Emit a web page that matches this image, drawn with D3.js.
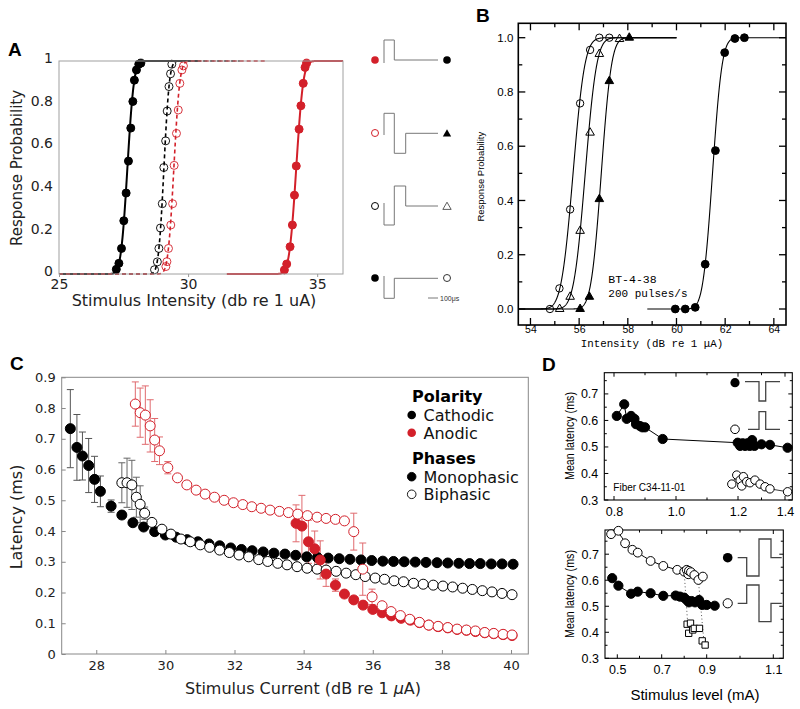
<!DOCTYPE html>
<html><head><meta charset="utf-8">
<script src="https://cdn.jsdelivr.net/npm/d3@7"></script>
<style>body{margin:0;background:#fff}</style>
</head><body><svg id="c" width="800" height="709" xmlns="http://www.w3.org/2000/svg"></svg>
<script>
// ---------------- DATA ----------------
// Panel A
const aTicksX = [25, 30, 35];
const aTicksY = [0, 0.2, 0.4, 0.6, 0.8, 1];
const aCathMonoX = [27.22,27.32,27.42,27.51,27.6,27.69,27.78,27.86,27.92,28.0,28.09,28.17];
const aCathMonoY = [0.022,0.05,0.12,0.25,0.38,0.53,0.685,0.81,0.91,0.958,0.985,0.99];
const aCathBiX = [28.7,28.81,28.87,28.93,29.0,29.06,29.13,29.19,29.26,29.32,29.37];
const aCathBiY = [0.02,0.057,0.12,0.216,0.33,0.5,0.625,0.765,0.88,0.94,0.985];
const aAnodBiX = [29.14,29.18,29.24,29.33,29.4,29.46,29.55,29.62,29.68,29.76,29.82];
const aAnodBiY = [0.035,0.058,0.12,0.23,0.33,0.51,0.66,0.77,0.895,0.958,0.977];
const aAnodMonoX = [33.73,33.82,33.95,34.04,34.12,34.19,34.3,34.37,34.46,34.53,34.59];
const aAnodMonoY = [0.019,0.047,0.128,0.23,0.37,0.507,0.68,0.79,0.895,0.97,0.99];
// fitted cumulative-normal curves: [mu, sigma, from, to]
const aFitCathMono = [27.65, 0.2, 25, 30.5];
const aFitCathBi   = [29.065, 0.166, 25, 32];
const aFitAnodBi   = [29.45, 0.18, 25, 33];
const aFitAnodMono = [34.19, 0.213, 31.5, 36];

// Panel B
const bTicksX = [54, 56, 58, 60, 62, 64];
const bTicksY = [0, 0.2, 0.4, 0.6, 0.8, 1.0];
const bOpenCircX = [54.8,55.19,55.63,56.04,56.45,56.83,57.24];
const bOpenCircY = [0,0.076,0.367,0.758,0.955,1.0,1.0];
const bOpenTriX = [55.2,55.63,56.04,56.45,56.83,57.66];
const bOpenTriY = [0,0.045,0.288,0.65,0.94,0.995];
const bFillTriX = [56.04,56.42,56.83,57.24,58.06];
const bFillTriY = [0,0.045,0.405,0.84,1.0];
const bFillCircX = [59.95,60.36,60.77,61.18,61.6,61.98,62.4,62.79];
const bFillCircY = [0,0,0.006,0.165,0.584,0.945,0.997,1.0];
const bFitOpenCirc = [55.75, 0.38, 53.5, 60];
const bFitOpenTri  = [56.25, 0.37, 53.5, 60];
const bFitFillTri  = [56.91, 0.33, 53.5, 60];
const bFitFillCirc = [61.48, 0.31, 58.8, 64.5];

// Panel C
const cTicksX = [28, 30, 32, 34, 36, 38, 40];
const cTicksY = [0, 0.1, 0.2, 0.3, 0.4, 0.5, 0.6, 0.7, 0.8, 0.9];
const cCathMonoX = [27.25,27.44,27.6,27.78,27.95,28.12,28.43,28.74,29.06,29.37,29.69,30.0,30.31,30.63,30.94,31.26,31.57,31.89,32.2,32.51,32.83,33.14,33.46,33.77,34.09,34.4,34.71,35.03,35.34,35.66,35.97,36.29,36.6,36.91,37.23,37.54,37.86,38.17,38.49,38.8,39.11,39.43,39.74,40.06];
const cCathMonoY = [0.733,0.672,0.644,0.613,0.568,0.529,0.481,0.452,0.427,0.413,0.398,0.387,0.38,0.372,0.365,0.358,0.352,0.345,0.34,0.336,0.332,0.328,0.325,0.321,0.316,0.314,0.312,0.31,0.308,0.306,0.304,0.302,0.301,0.3,0.299,0.298,0.297,0.296,0.295,0.294,0.294,0.293,0.293,0.292];
const cCathMonoErr = [0.127,0.107,0.078,0.088,0.075,0.05,0.02,0.012];
const cCathBiX = [28.74,28.89,29.03,29.16,29.27,29.4,29.61,29.9,30.16,30.45,30.72,31.01,31.28,31.57,31.85,32.13,32.41,32.7,32.96,33.25,33.52,33.81,34.1,34.39,34.65,34.94,35.23,35.51,35.78,36.07,36.34,36.62,36.89,37.18,37.46,37.75,38.03,38.31,38.6,38.88,39.17,39.45,39.74,40.03];
const cCathBiY = [0.557,0.557,0.55,0.51,0.487,0.458,0.428,0.406,0.39,0.374,0.365,0.355,0.347,0.338,0.33,0.322,0.316,0.307,0.301,0.295,0.29,0.284,0.279,0.276,0.273,0.269,0.263,0.258,0.252,0.247,0.243,0.238,0.235,0.23,0.227,0.224,0.221,0.218,0.214,0.21,0.206,0.202,0.197,0.193];
const cCathBiErr = [0.065,0.08,0.08,0.065,0.06,0.02,0.01];
const cAnodBiX = [29.13,29.27,29.42,29.56,29.69,29.83,30.07,30.35,30.62,30.89,31.15,31.42,31.7,31.97,32.24,32.5,32.77,33.03,33.3,33.56,33.83,34.11,34.39,34.65,34.92,35.18,35.45,35.71,35.98,36.27,36.53,36.8,37.07,37.35,37.62,37.89,38.17,38.44,38.71,38.97,39.24,39.5,39.77,40.03];
const cAnodBiY = [0.813,0.785,0.777,0.742,0.696,0.661,0.606,0.573,0.55,0.533,0.52,0.51,0.5,0.492,0.486,0.479,0.474,0.468,0.464,0.46,0.455,0.45,0.445,0.441,0.438,0.433,0.398,0.276,0.186,0.157,0.138,0.125,0.113,0.103,0.094,0.09,0.086,0.081,0.078,0.075,0.07,0.067,0.064,0.062];
const cAnodBiErr = [0.072,0.08,0.095,0.085,0.07,0.045,0.02,0,0,0,0,0,0,0,0,0,0,0,0,0,0,0,0,0,0,0,0.06,0.085,0.025];
const cAnodMonoX = [33.78,33.95,34.14,34.32,34.48,34.65,34.92,35.18,35.45,35.72,36.0,36.27,36.54,36.82,37.09,37.35,37.62,37.89,38.17,38.44,38.71,38.97,39.24,39.5,39.77,40.03];
const cAnodMonoY = [0.425,0.416,0.365,0.342,0.306,0.26,0.224,0.195,0.176,0.159,0.145,0.134,0.124,0.116,0.11,0.102,0.094,0.089,0.085,0.08,0.077,0.073,0.069,0.066,0.063,0.06];
const cAnodMonoErr = [0.06,0.1,0.07,0.058,0.062,0.04,0.02];
const cLegendPolarity = ["Cathodic", "Anodic"];
const cLegendPhases = ["Monophasic", "Biphasic"];

// Panel D
const dTopTicksX = [0.8, 1.0, 1.2, 1.4];
const dTopTicksY = [0.3, 0.4, 0.5, 0.6, 0.7];
const dTopFillX = [0.809,0.833,0.841,0.855,0.866,0.871,0.884,0.891,0.9,0.957,1.199,1.209,1.22,1.23,1.24,1.25,1.26,1.27,1.3,1.336,1.411];
const dTopFillY = [0.617,0.661,0.606,0.617,0.606,0.586,0.579,0.574,0.574,0.53,0.516,0.504,0.514,0.504,0.514,0.504,0.526,0.504,0.51,0.508,0.497];
const dTopOpenX = [1.18,1.196,1.209,1.216,1.223,1.237,1.251,1.272,1.294,1.315,1.336,1.411];
const dTopOpenY = [0.36,0.394,0.375,0.353,0.388,0.369,0.365,0.375,0.36,0.35,0.342,0.331];
const dBotTicksX = [0.5, 0.7, 0.9, 1.1];
const dBotTicksY = [0.3, 0.4, 0.5, 0.6, 0.7];
const dBotOpenX = [0.472,0.505,0.535,0.568,0.592,0.65,0.707,0.769,0.8,0.811,0.818,0.821,0.83,0.845,0.863,0.883];
const dBotOpenY = [0.777,0.79,0.742,0.717,0.706,0.674,0.655,0.64,0.633,0.64,0.623,0.636,0.631,0.62,0.601,0.614];
const dBotFillX = [0.477,0.505,0.562,0.592,0.65,0.707,0.762,0.781,0.8,0.811,0.821,0.833,0.848,0.866,0.88,0.9,0.924];
const dBotFillY = [0.608,0.579,0.548,0.556,0.55,0.54,0.541,0.537,0.533,0.524,0.515,0.52,0.515,0.524,0.505,0.505,0.502];
const dBotSqX = [0.813,0.82,0.828,0.838,0.845,0.868,0.88,0.893];
const dBotSqY = [0.431,0.396,0.435,0.409,0.415,0.415,0.367,0.351];
const dBotDotX1 = [0.8, 0.863], dBotDotY1 = [0.63, 0.6];
const dBotDotX2 = [0.815, 0.887], dBotDotY2 = [0.44, 0.37];

// ---------------- HELPERS ----------------
const svg = d3.select('#c');
const RED = '#d3202a';
const DJ = 'DejaVu Sans, Verdana, sans-serif';
const LS = 'Liberation Sans, Arial, Helvetica, sans-serif';
const MONO = 'Liberation Mono, DejaVu Sans Mono, monospace';

function ncdf(z){
  const t = 1/(1+0.2316419*Math.abs(z));
  const d = 0.3989423*Math.exp(-z*z/2);
  const p = d*t*(0.3193815+t*(-0.3565638+t*(1.781478+t*(-1.821256+t*1.330274))));
  return z > 0 ? 1-p : p;
}
function fitPts(f){ return d3.range(f[2], f[3]+1e-9, 0.01).map(x=>[x, ncdf((x-f[0])/f[1])]); }
function zip(xs, ys){ return xs.map((x,i)=>[x, ys[i]]); }
function circles(g, xs, ys, sx, sy, r, fill, stroke, sw){
  g.selectAll(null).data(zip(xs,ys)).join('circle')
    .attr('cx', d=>sx(d[0])).attr('cy', d=>sy(d[1])).attr('r', r)
    .attr('fill', fill).attr('stroke', stroke).attr('stroke-width', sw||1);
}
function syms(g, xs, ys, sx, sy, type, size, fill, stroke, sw){
  const sym = d3.symbol().type(type).size(size);
  g.selectAll(null).data(zip(xs,ys)).join('path')
    .attr('d', sym).attr('transform', d=>`translate(${sx(d[0])},${sy(d[1])})`)
    .attr('fill', fill).attr('stroke', stroke).attr('stroke-width', sw||1);
}
function errbars(g, xs, ys, es, sx, sy, color, cap){
  es.forEach((e,i)=>{
    if(!e) return;
    const X = sx(xs[i]), y1 = sy(ys[i]+e), y2 = sy(ys[i]-e);
    g.append('line').attr('x1',X).attr('x2',X).attr('y1',y1).attr('y2',y2).attr('stroke',color).attr('stroke-width',1);
    [y1,y2].forEach(y=>g.append('line').attr('x1',X-cap).attr('x2',X+cap).attr('y1',y).attr('y2',y).attr('stroke',color).attr('stroke-width',1));
  });
}
function rect(x0,y0,x1,y1,stroke,sw){
  svg.append('rect').attr('x',x0).attr('y',y0).attr('width',x1-x0).attr('height',y1-y0)
    .attr('fill','none').attr('stroke',stroke).attr('stroke-width',sw);
}
function styleAxis(g, font, size, color, tickColor){
  g.select('.domain').remove();
  g.selectAll('text').attr('font-family', font).attr('font-size', size).attr('fill', color);
  g.selectAll('line').attr('stroke', tickColor || color);
}
function label(x, y, txt, font, size, opts={}){
  const t = svg.append('text').attr('x',x).attr('y',y).text(txt)
    .attr('font-family',font).attr('font-size',size).attr('fill',opts.fill||'#000')
    .attr('text-anchor',opts.anchor||'start').attr('font-weight',opts.weight||'normal');
  if(opts.rotate) t.attr('transform',`rotate(-90,${x},${y})`);
  return t;
}
function path(d, stroke, sw){
  return svg.append('path').attr('d',d).attr('fill','none').attr('stroke',stroke).attr('stroke-width',sw);
}

// ---------------- PANEL A ----------------
{
  const sx = d3.scaleLinear().domain([25,36]).range([59,343]);
  const sy = d3.scaleLinear().domain([0,1]).range([274,61]);
  const g = svg.append('g');
  rect(59,61,343,274,'#a0a0a0',1);
  const line = d3.line().x(d=>sx(d[0])).y(d=>sy(d[1]));
  g.append('path').attr('d', line(fitPts(aFitCathMono))).attr('fill','none').attr('stroke','#000').attr('stroke-width',2);
  g.append('path').attr('d', line(fitPts(aFitAnodMono))).attr('fill','none').attr('stroke',RED).attr('stroke-width',2);
  g.append('path').attr('d', line(fitPts(aFitCathBi))).attr('fill','none').attr('stroke','#000').attr('stroke-width',1.6).attr('stroke-dasharray','4,3');
  g.append('path').attr('d', line(fitPts(aFitAnodBi))).attr('fill','none').attr('stroke',RED).attr('stroke-width',1.6).attr('stroke-dasharray','4,3');
  circles(g, aCathMonoX, aCathMonoY, sx, sy, 4, '#000', '#000');
  circles(g, aAnodMonoX, aAnodMonoY, sx, sy, 4, RED, RED);
  circles(g, aCathBiX, aCathBiY, sx, sy, 4, 'none', '#000', 0.9);
  circles(g, aAnodBiX, aAnodBiY, sx, sy, 4, 'none', RED, 0.9);
  const xa = svg.append('g').attr('transform','translate(0,274)')
    .call(d3.axisBottom(sx).tickValues(aTicksX).tickSize(3).tickPadding(2).tickFormat(d3.format('d')));
  styleAxis(xa, DJ, 14, '#222', '#999');
  const ya = svg.append('g').attr('transform','translate(59,0)')
    .call(d3.axisLeft(sy).tickValues(aTicksY).tickSize(0).tickPadding(6).tickFormat(d=> (d===0||d===1)? String(d) : d3.format('.1f')(d)));
  styleAxis(ya, DJ, 14, '#222');
  ya.selectAll('text').attr('dy', '0.12em');
  label(194, 306, 'Stimulus Intensity (db re 1 uA)', DJ, 16, {anchor:'middle', fill:'#222'});
  label(22, 168, 'Response Probability', DJ, 15, {anchor:'middle', fill:'#222', rotate:true});
  label(8, 56, 'A', LS, 19, {weight:'bold'});

  // stimulus waveform icons
  const wc = '#777';
  path('M384,63 V40 H394.3 V60 H438', wc, 1);
  path('M384,135 V113.3 H394.3 V153.3 H405.7 V133.3 H438', wc, 1);
  path('M384,203 V225 H394.3 V186 H405.7 V206 H438', wc, 1);
  path('M384,276 V298.3 H394.3 V278.3 H438', wc, 1);
  path('M428,298 H438', '#555', 0.8);
  label(440, 300.5, '100μs', LS, 7, {fill:'#333'});
  svg.append('circle').attr('cx',375).attr('cy',60).attr('r',3.8).attr('fill',RED);
  svg.append('circle').attr('cx',447).attr('cy',60).attr('r',3.8).attr('fill','#000');
  svg.append('circle').attr('cx',375).attr('cy',133).attr('r',3.5).attr('fill','none').attr('stroke',RED);
  svg.append('path').attr('d',d3.symbol(d3.symbolTriangle,30)()).attr('transform','translate(447,134)').attr('fill','#000');
  svg.append('circle').attr('cx',375).attr('cy',206).attr('r',3.5).attr('fill','none').attr('stroke','#000');
  svg.append('path').attr('d',d3.symbol(d3.symbolTriangle,30)()).attr('transform','translate(447,207)').attr('fill','none').attr('stroke','#333').attr('stroke-width',0.8);
  svg.append('circle').attr('cx',375).attr('cy',278).attr('r',3.8).attr('fill','#000');
  svg.append('circle').attr('cx',447).attr('cy',278).attr('r',3.5).attr('fill','none').attr('stroke','#333');
}

// ---------------- PANEL B ----------------
{
  const sx = d3.scaleLinear().domain([53.5,64.5]).range([518.3,786]);
  const sy = d3.scaleLinear().domain([0,1]).range([309,37.7]);
  const g = svg.append('g');
  const line = d3.line().x(d=>sx(d[0])).y(d=>sy(d[1]));
  [bFitOpenCirc,bFitOpenTri,bFitFillTri,bFitFillCirc].forEach(f=>{
    g.append('path').attr('d', line(fitPts(f))).attr('fill','none').attr('stroke','#000').attr('stroke-width',1.1);
  });
  circles(g, bOpenCircX, bOpenCircY, sx, sy, 3.7, 'none', '#000', 1);
  syms(g, bOpenTriX, bOpenTriY, sx, sy, d3.symbolTriangle, 32, 'none', '#000', 1);
  syms(g, bFillTriX, bFillTriY, sx, sy, d3.symbolTriangle, 32, '#000', '#000', 1);
  circles(g, bFillCircX, bFillCircY, sx, sy, 3.9, '#000', '#000', 1);
  rect(518.3,23.3,786,325,'#000',1.6);
  // ticks (inward, all sides)
  const tg = svg.append('g').attr('stroke','#000').attr('stroke-width',1.3);
  d3.range(54, 64.5, 1).forEach(v=>{
    const L = (v%2===0) ? 7 : 4, X = sx(v);
    tg.append('line').attr('x1',X).attr('x2',X).attr('y1',325).attr('y2',325-L);
    tg.append('line').attr('x1',X).attr('x2',X).attr('y1',23.3).attr('y2',23.3+L);
  });
  d3.range(0, 10.5, 1).forEach(k=>{
    const v = k/10, L = (k%2===0) ? 7 : 4, Y = sy(v);
    tg.append('line').attr('x1',518.3).attr('x2',518.3+L).attr('y1',Y).attr('y2',Y);
    tg.append('line').attr('x1',786).attr('x2',786-L).attr('y1',Y).attr('y2',Y);
  });
  const xa = svg.append('g').attr('transform','translate(0,325)')
    .call(d3.axisBottom(sx).tickValues(bTicksX).tickSize(0).tickPadding(1).tickFormat(d3.format('d')));
  styleAxis(xa, LS, 10.5, '#000');
  const ya = svg.append('g').attr('transform','translate(518.3,0)')
    .call(d3.axisLeft(sy).tickValues(bTicksY).tickSize(0).tickPadding(5).tickFormat(d3.format('.1f')));
  styleAxis(ya, LS, 11.5, '#000');
  label(652, 346.5, 'Intensity (dB re 1 μA)', MONO, 10.8, {anchor:'middle'});
  label(484, 176.7, 'Response Probability', LS, 9.5, {anchor:'middle', rotate:true});
  label(608.3, 283, 'BT-4-38', MONO, 11.5);
  label(608.3, 296.5, '200  pulses/s', MONO, 11);
  label(476, 22, 'B', LS, 19, {weight:'bold'});
}

// ---------------- PANEL C ----------------
{
  const sx = d3.scaleLinear().domain([27,40.5]).range([61.7,528.3]);
  const sy = d3.scaleLinear().domain([0,0.9]).range([654,377.3]);
  rect(61.7,377.3,528.3,654,'#888',1);
  const g = svg.append('g');
  errbars(g, cCathMonoX, cCathMonoY, cCathMonoErr, sx, sy, '#555', 3.5);
  errbars(g, cCathBiX, cCathBiY, cCathBiErr, sx, sy, '#666', 3.5);
  errbars(g, cAnodBiX, cAnodBiY, cAnodBiErr, sx, sy, '#e06a6e', 3.5);
  errbars(g, cAnodMonoX, cAnodMonoY, cAnodMonoErr, sx, sy, '#e06a6e', 3.5);
  circles(g, cCathMonoX, cCathMonoY, sx, sy, 5, '#000', '#000', 1);
  circles(g, cCathBiX, cCathBiY, sx, sy, 5, '#fff', '#000', 1);
  circles(g, cAnodMonoX, cAnodMonoY, sx, sy, 5, RED, RED, 1);
  circles(g, cAnodBiX, cAnodBiY, sx, sy, 5, '#fff', RED, 1);
  const xa = svg.append('g').attr('transform','translate(0,654)')
    .call(d3.axisBottom(sx).tickValues(cTicksX).tickSize(-4).tickPadding(7).tickFormat(d3.format('d')));
  styleAxis(xa, DJ, 13, '#222', '#888');
  const ya = svg.append('g').attr('transform','translate(61.7,0)')
    .call(d3.axisLeft(sy).tickValues(cTicksY).tickSize(-4).tickPadding(6).tickFormat(d=> d===0 ? '0' : d3.format('.1f')(d)));
  styleAxis(ya, DJ, 13, '#222', '#888');
  const xl = label(303, 694, 'Stimulus Current (dB re 1 ', DJ, 16, {anchor:'middle', fill:'#222'});
  xl.append('tspan').attr('font-style','italic').text('μ');
  xl.append('tspan').text('A)');
  label(22, 517, 'Latency (ms)', DJ, 16, {anchor:'middle', fill:'#222', rotate:true});
  label(10, 370, 'C', LS, 19, {weight:'bold'});
  // legend
  label(412, 401.5, 'Polarity', DJ, 16, {weight:'bold'});
  label(412, 463.5, 'Phases', DJ, 16, {weight:'bold'});
  const legY1 = [415, 432.7], legY2 = [476.7, 494.3];
  const legC1 = ['#000', RED];
  cLegendPolarity.forEach((t,i)=>{
    svg.append('circle').attr('cx',411.7).attr('cy',legY1[i]).attr('r',4.3).attr('fill',legC1[i]);
    label(423.5, legY1[i]+5.8, t, DJ, 16, {fill:'#111'});
  });
  cLegendPhases.forEach((t,i)=>{
    svg.append('circle').attr('cx',411.7).attr('cy',legY2[i]).attr('r',4.3)
      .attr('fill', i===0 ? '#000' : '#fff').attr('stroke','#000').attr('stroke-width',0.9);
    label(423.5, legY2[i]+5.8, t, DJ, 16, {fill:'#111'});
  });
}

// ---------------- PANEL D ----------------
function dAxes(sx, sy, x0, x1, y0, y1, ticksX, ticksY, minorX, minorY){
  rect(x0, y0, x1, y1, '#000', 1.1);
  const tg = svg.append('g').attr('stroke','#000').attr('stroke-width',1);
  ticksX.forEach(v=>{ const X=sx(v);
    tg.append('line').attr('x1',X).attr('x2',X).attr('y1',y1).attr('y2',y1-4);
    tg.append('line').attr('x1',X).attr('x2',X).attr('y1',y0).attr('y2',y0+4); });
  minorX.forEach(v=>{ const X=sx(v);
    tg.append('line').attr('x1',X).attr('x2',X).attr('y1',y1).attr('y2',y1-2.5);
    tg.append('line').attr('x1',X).attr('x2',X).attr('y1',y0).attr('y2',y0+2.5); });
  ticksY.forEach(v=>{ const Y=sy(v);
    tg.append('line').attr('x1',x0).attr('x2',x0+4).attr('y1',Y).attr('y2',Y);
    tg.append('line').attr('x1',x1).attr('x2',x1-4).attr('y1',Y).attr('y2',Y); });
  minorY.forEach(v=>{ const Y=sy(v);
    tg.append('line').attr('x1',x0).attr('x2',x0+2.5).attr('y1',Y).attr('y2',Y);
    tg.append('line').attr('x1',x1).attr('x2',x1-2.5).attr('y1',Y).attr('y2',Y); });
  const xa = svg.append('g').attr('transform',`translate(0,${y1})`)
    .call(d3.axisBottom(sx).tickValues(ticksX).tickSize(0).tickPadding(7).tickFormat(d3.format('.1f')));
  styleAxis(xa, LS, 12.5, '#000');
  const ya = svg.append('g').attr('transform',`translate(${x0},0)`)
    .call(d3.axisLeft(sy).tickValues(ticksY).tickSize(0).tickPadding(6).tickFormat(d3.format('.1f')));
  styleAxis(ya, LS, 12.5, '#000');
}
{
  // top plot
  const sx = d3.scaleLinear().domain([0.8,1.0,1.2,1.4]).range([614,676,738,785]);
  const sy = d3.scaleLinear().domain([0.3,0.78]).range([500,372.7]);
  dAxes(sx, sy, 604.3, 792.3, 372.7, 500, dTopTicksX, dTopTicksY, [0.9,1.1,1.3], [0.35,0.45,0.55,0.65,0.75]);
  const g = svg.append('g');
  const line = d3.line().x(d=>sx(d[0])).y(d=>sy(d[1]));
  g.append('path').attr('d', line(zip(dTopFillX,dTopFillY))).attr('fill','none').attr('stroke','#000').attr('stroke-width',1);
  g.append('path').attr('d', line(zip(dTopOpenX,dTopOpenY))).attr('fill','none').attr('stroke','#000').attr('stroke-width',0.8);
  circles(g, dTopFillX, dTopFillY, sx, sy, 4.6, '#000', '#000', 1);
  circles(g, dTopOpenX, dTopOpenY, sx, sy, 4.2, '#fff', '#000', 1);
  label(613.3, 491, 'Fiber C34-11-01', LS, 10);
  const yl = label(574, 436, 'Mean latency (ms)', LS, 13.5, {anchor:'middle', rotate:true});
  yl.attr('textLength', 88).attr('lengthAdjust','spacingAndGlyphs');
  // icons
  svg.append('circle').attr('cx',735).attr('cy',382.7).attr('r',4.6).attr('fill','#000');
  path('M745,381.7 H759 V401 H765.7 V381.7 H780', '#444', 1.3);
  svg.append('circle').attr('cx',735).attr('cy',429.3).attr('r',4.3).attr('fill','#fff').attr('stroke','#000');
  path('M748,429.3 H759 V411.7 H765.7 V429.3 H780', '#444', 1.3);
  label(542, 371, 'D', LS, 19, {weight:'bold'});
}
{
  // bottom plot
  const sx = d3.scaleLinear().domain([0.5,0.7,0.9,1.1]).range([617.3,661.7,706.7,773.3]);
  const sy = d3.scaleLinear().domain([0.3,0.793]).range([658.3,530]);
  dAxes(sx, sy, 605, 783.3, 530, 658.3, dBotTicksX, dBotTicksY, [0.6,0.8,1.0], [0.35,0.45,0.55,0.65,0.75]);
  const g = svg.append('g');
  const line = d3.line().x(d=>sx(d[0])).y(d=>sy(d[1]));
  g.append('path').attr('d', line(zip(dBotFillX,dBotFillY))).attr('fill','none').attr('stroke','#000').attr('stroke-width',1);
  g.append('path').attr('d', d3.line().curve(d3.curveBasis).x(d=>sx(d[0])).y(d=>sy(d[1]))(zip(dBotOpenX,dBotOpenY))).attr('fill','none').attr('stroke','#000').attr('stroke-width',1);
  [0,1].forEach(i=>{
    g.append('line').attr('x1',sx(dBotDotX1[i])).attr('y1',sy(dBotDotY1[i])).attr('x2',sx(dBotDotX2[i])).attr('y2',sy(dBotDotY2[i]))
      .attr('stroke','#555').attr('stroke-width',1).attr('stroke-dasharray','1,2.5');
  });
  circles(g, dBotFillX, dBotFillY, sx, sy, 4.6, '#000', '#000', 1);
  circles(g, dBotOpenX, dBotOpenY, sx, sy, 4.4, '#fff', '#000', 1);
  syms(g, dBotSqX, dBotSqY, sx, sy, d3.symbolSquare, 40, '#fff', '#000', 1);
  const yl = label(574, 594, 'Mean latency (ms)', LS, 13.5, {anchor:'middle', rotate:true});
  yl.attr('textLength', 88).attr('lengthAdjust','spacingAndGlyphs');
  label(695, 700, 'Stimulus level (mA)', LS, 15, {anchor:'middle'});
  // icons
  svg.append('circle').attr('cx',727.7).attr('cy',557.7).attr('r',4.8).attr('fill','#000');
  path('M737.7,557.7 H746.7 V576 H759 V539 H771 V557.7 H781.7', '#444', 1.3);
  svg.append('circle').attr('cx',727.7).attr('cy',603.3).attr('r',4.6).attr('fill','#fff').attr('stroke','#000');
  path('M737.7,603.3 H746.7 V585 H759 V621.7 H771 V603.3 H781.7', '#444', 1.3);
}
</script></body></html>
